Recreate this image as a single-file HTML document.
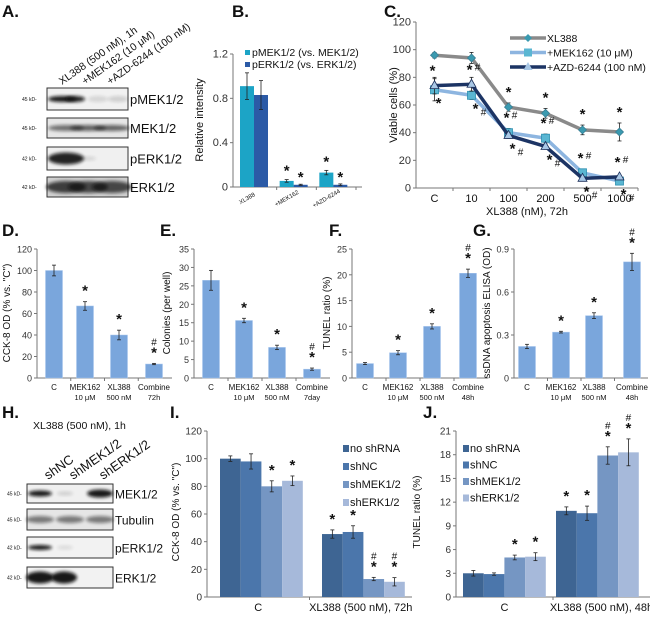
<!DOCTYPE html>
<html><head><meta charset="utf-8">
<style>
html,body{margin:0;padding:0;background:#fff;}
svg{display:block;font-family:"Liberation Sans",Arial,sans-serif;}
</style></head>
<body>
<svg id="fig" width="650" height="626" viewBox="0 0 650 626" xmlns="http://www.w3.org/2000/svg">
<defs>
<filter id="blur1" x="-20%" y="-50%" width="140%" height="200%"><feGaussianBlur stdDeviation="1.6"/></filter>
</defs>
</svg>
<script>
// ===== Panel B data =====
const bCats = ["XL388", "+MEK162", "+AZD-6244"];
const bPMEK = [0.91, 0.055, 0.13];
const bPMEKErr = [0.12, 0.012, 0.02];
const bPERK = [0.83, 0.02, 0.02];
const bPERKErr = [0.13, 0.005, 0.008];
const bTicks = [0, 0.4, 0.8, 1.2];
const bAnnot = ["", "*", "*"];
// ===== Panel C data =====
const cCats = ["C", "10", "100", "200", "500", "1000"];
const cXL = [96, 94, 58.5, 54, 42, 40.5];
const cXLErr = [2, 4, 3, 3.5, 3.5, 6.5];
const cMEK = [71, 67, 40, 36, 11, 5];
const cMEKErr = [8, 3, 3, 3, 2, 1];
const cAZD = [74, 75, 38, 30, 7, 8];
const cAZDErr = [6, 5, 2, 2, 1, 1];
const cTicks = [0, 20, 40, 60, 80, 100, 120];
const cXLAnnot = ["", "", "*", "*", "*", "*"];
const cMEKAnnot = ["*", "*#", "*#", "*#", "*#", "*#"];
const cAZDAnnot = ["*", "*#", "*#", "*#", "*#", "*#"];
// ===== Panel D-G data =====
const rowCats = ["C", "MEK162", "XL388", "Combine"];
const rowCats2 = ["", "10 μM", "500 nM"];
const dVals = [100, 67, 40, 13];
const dErr = [5, 4, 4.5, 0.6];
const dTicks = [0, 20, 40, 60, 80, 100, 120];
const dAnnot = ["", "*", "*", "*#"];
const eVals = [26.5, 15.6, 8.3, 2.4];
const eErr = [2.7, 0.6, 0.6, 0.3];
const eTicks = [0, 5, 10, 15, 20, 25, 30, 35];
const eAnnot = ["", "*", "*", "*#"];
const fVals = [2.8, 4.9, 10, 20.3];
const fErr = [0.2, 0.4, 0.5, 0.8];
const fTicks = [0, 5, 10, 15, 20, 25];
const fAnnot = ["", "*", "*", "*#"];
const gVals = [0.22, 0.32, 0.435, 0.81];
const gErr = [0.015, 0.006, 0.02, 0.06];
const gTicks = [0, 0.3, 0.6, 0.9];
const gAnnot = ["", "*", "*", "*#"];
// ===== Panel I/J data =====
const ijGroups = ["C", "XL388"];
const ijSeries = ["no shRNA", "shNC", "shMEK1/2", "shERK1/2"];
const iC = [100, 98, 80, 84];
const iCErr = [2, 5.5, 4, 3.5];
const iX = [45.5, 47, 13, 11];
const iXErr = [3, 4.5, 1.2, 3];
const iTicks = [0, 20, 40, 60, 80, 100, 120];
const iCAnnot = ["", "", "*", "*"];
const iXAnnot = ["*", "*", "*#", "*#"];
const jC = [3, 2.9, 5, 5.1];
const jCErr = [0.35, 0.15, 0.3, 0.5];
const jX = [10.9, 10.6, 17.9, 18.3];
const jXErr = [0.5, 0.9, 1.1, 1.7];
const jTicks = [0, 3, 6, 9, 12, 15, 18, 21];
const jCAnnot = ["", "", "*", "*"];
const jXAnnot = ["*", "*", "*#", "*#"];

const NS = "http://www.w3.org/2000/svg";
const svg = document.getElementById("fig");

function mk(tag, attrs, name, parent) {
  const el = document.createElementNS(NS, tag);
  for (const k in attrs) el.setAttribute(k, attrs[k]);
  
  
  (parent || svg).appendChild(el);
  return el;
}
function txt(x, y, s, size, name, extra) {
  const a = Object.assign({x: x, y: y, "font-size": size, fill: "#111"}, extra || {});
  const t = mk("text", a, name);
  t.textContent = s;
  return t;
}
function ln(x1, y1, x2, y2, name, stroke, w) {
  return mk("line", {x1: x1, y1: y1, x2: x2, y2: y2, stroke: stroke || "#777", "stroke-width": w || 1}, name);
}
function linScale(v0, v1, p0, p1) { return v => p0 + (v - v0) / (v1 - v0) * (p1 - p0); }
function errBar(x, yTop, yBot, name) {
  ln(x, yTop, x, yBot, name, "#222", 0.8);
  ln(x - 2, yTop, x + 2, yTop, name + "-cap", "#222", 0.8);
  ln(x - 2, yBot, x + 2, yBot, name + "-cap", "#222", 0.8);
}
function annot(x, y, s, name) {
  if (!s) return;
  if (s === "*") { txt(x, y + 8, "*", 15, name, {"text-anchor": "middle", "font-weight": "bold"}); }
  else {
    txt(x, y + 8, "*", 15, name, {"text-anchor": "middle", "font-weight": "bold"});
    txt(x, y - 4, "#", 10, name + "-hash", {"text-anchor": "middle"});
  }
}
function yAxis(ax, y0, y1, ticks, scale, fmt, size, nm) {
  ln(ax, y0, ax, y1, nm + "-y-axis", "#777", 1);
  ticks.forEach(t => {
    const y = scale(t);
    ln(ax - 3, y, ax, y, nm + "-y-tick", "#777", 1);
    txt(ax - 5, y + 3.5, fmt(t), size, nm + "-y-tick-label", {"text-anchor": "end", fill: "#333"});
  });
}

// ================= Panel A =================
txt(2, 17, "A.", 17, "panel-a-label", {"font-weight": "bold"});
[["XL388 (500 nM), 1h", 62], ["+MEK162 (10 μM)", 85], ["+AZD-6244 (100 nM)", 110]].forEach(c => {
  txt(c[1], 85, c[0], 10.5, "lane-label-a", {transform: "rotate(-35 " + c[1] + " 85)"});
});
const aRows = [
  {name: "pMEK1/2", y: 88, h: 22, kd: "45 kD-", bands: [[62, 0.95, 14, 3], [75, 0.9, 10, 3], [98, 0.12, 10, 3], [118, 0.15, 10, 3]], bg: "#f1f1f1"},
  {name: "MEK1/2", y: 118, h: 20, kd: "45 kD-", bands: [[66, 0.55, 18, 3], [88, 0.6, 18, 3], [112, 0.6, 18, 3]], bg: "#e6e6e6"},
  {name: "pERK1/2", y: 147, h: 23, kd: "42 kD-", bands: [[66, 0.9, 18, 6], [88, 0.12, 8, 2]], bg: "#f0f0f0"},
  {name: "ERK1/2", y: 177, h: 20, kd: "42 kD-", bands: [[66, 0.75, 20, 6], [88, 0.7, 20, 6], [112, 0.7, 20, 6]], bg: "#d0d0d0"}
];
aRows.forEach(r => {
  mk("rect", {x: 47, y: r.y, width: 81, height: r.h, fill: r.bg, stroke: "#333", "stroke-width": 1}, "blot-" + r.name.toLowerCase().replace("/", ""));
  r.bands.forEach(b => {
    mk("ellipse", {cx: b[0], cy: r.y + r.h / 2, rx: b[2], ry: b[3], fill: "#111", opacity: b[1], filter: "url(#blur1)"}, "blot-band");
  });
  txt(130, r.y + r.h / 2 + 5, r.name, 13, "blot-label");
  txt(22, r.y + r.h / 2 + 2, r.kd, 5, "kd-marker");
});

// ================= Panel B =================
txt(232, 17, "B.", 17, "panel-b-label", {"font-weight": "bold"});
const bx0 = 233, bxEnd = 362, by0 = 187, byTop = 54;
const bY = linScale(0, 1.2, by0, byTop);
yAxis(bx0, by0, byTop, bTicks, bY, t => t === 0 ? "0" : t.toFixed(1), 11, "panel-b");
ln(bx0, by0, bxEnd, by0, "panel-b-x-axis", "#777", 1);
const bGroupW = (bxEnd - bx0 - 10) / bCats.length;
const bBarW = 14;
bCats.forEach((c, i) => {
  const cx = bx0 + 21 + i * bGroupW;
  ln(bx0 + (i + 1) * bGroupW + 4, by0, bx0 + (i + 1) * bGroupW + 4, by0 + 3, "panel-b-x-tick", "#777", 1);
  mk("rect", {x: cx - bBarW, y: bY(bPMEK[i]), width: bBarW, height: by0 - bY(bPMEK[i]), fill: "#1ca4c6"}, "bar-pmek-" + i);
  mk("rect", {x: cx, y: bY(bPERK[i]), width: bBarW, height: by0 - bY(bPERK[i]), fill: "#2b5aa6"}, "bar-perk-" + i);
  errBar(cx - bBarW / 2, bY(bPMEK[i] + bPMEKErr[i]), bY(bPMEK[i] - bPMEKErr[i]), "err-pmek");
  errBar(cx + bBarW / 2, bY(bPERK[i] + bPERKErr[i]), bY(bPERK[i] - bPERKErr[i]), "err-perk");
  if (bAnnot[i]) {
    annot(cx - bBarW / 2, bY(bPMEK[i] + bPMEKErr[i]) - 12, "*", "sig-pmek");
    annot(cx + bBarW / 2, bY(bPERK[i] + bPERKErr[i]) - 10, "*", "sig-perk");
  }
  txt(cx - 6, 200, c, 6, "panel-b-x-label", {"text-anchor": "middle", transform: "rotate(-30 " + (cx - 6) + " 200)"});
});
txt(203, 120, "Relative intensity", 11, "panel-b-y-title", {"text-anchor": "middle", transform: "rotate(-90 203 120)"});
mk("rect", {x: 245, y: 50, width: 5, height: 5, fill: "#1ca4c6"}, "legend-swatch-pmek");
txt(252, 56, "pMEK1/2 (vs. MEK1/2)", 10.5, "legend-entry-pmek");
mk("rect", {x: 245, y: 62, width: 5, height: 5, fill: "#2b5aa6"}, "legend-swatch-perk");
txt(252, 68, "pERK1/2 (vs. ERK1/2)", 10.5, "legend-entry-perk");

// ================= Panel C =================
txt(384, 17, "C.", 17, "panel-c-label", {"font-weight": "bold"});
const cx0 = 416, cxEnd = 638, cy0 = 188, cyTop = 22;
const cY = linScale(0, 120, cy0, cyTop);
const cStep = (cxEnd - cx0) / cCats.length;
const cX = i => cx0 + cStep * (i + 0.5);
yAxis(cx0, cy0, cyTop, cTicks, cY, t => String(t), 11, "panel-c");
ln(cx0, cy0, cxEnd, cy0, "panel-c-x-axis", "#777", 1);
cCats.forEach((c, i) => {
  ln(cx0 + cStep * (i + 1), cy0, cx0 + cStep * (i + 1), cy0 + 3, "panel-c-x-tick", "#777", 1);
  txt(cX(i), 202, c, 11, "panel-c-x-label", {"text-anchor": "middle"});
});
txt(527, 215, "XL388 (nM), 72h", 11, "panel-c-x-title", {"text-anchor": "middle"});
txt(397, 105, "Viable cells (%)", 11, "panel-c-y-title", {"text-anchor": "middle", transform: "rotate(-90 397 105)"});
function series(vals, errs, color, marker, mfill, nm) {
  const pts = vals.map((v, i) => cX(i) + "," + cY(v)).join(" ");
  mk("polyline", {points: pts, fill: "none", stroke: color, "stroke-width": 3.5}, nm + "-line");
  vals.forEach((v, i) => {
    errBar(cX(i), cY(v + errs[i]), cY(v - errs[i]), nm + "-err");
    const x = cX(i), y = cY(v);
    if (marker === "d") mk("polygon", {points: `${x},${y-4} ${x+4},${y} ${x},${y+4} ${x-4},${y}`, fill: mfill, stroke: "#3a7f94", "stroke-width": 0.8}, nm + "-point");
    else if (marker === "s") mk("rect", {x: x - 4, y: y - 4, width: 8, height: 8, fill: mfill, stroke: "#2b8fb0", "stroke-width": 0.8}, nm + "-point");
    else mk("polygon", {points: `${x},${y-5} ${x+4.5},${y+3} ${x-4.5},${y+3}`, fill: mfill, stroke: "#1b2f5a", "stroke-width": 0.8}, nm + "-point");
  });
}
series(cXL, cXLErr, "#8a8a8a", "d", "#3a9ab0", "series-xl388");
series(cMEK, cMEKErr, "#8db5e0", "s", "#5ab6d2", "series-mek162");
series(cAZD, cAZDErr, "#1c3464", "t", "#a9c8e6", "series-azd6244");
cXLAnnot.forEach((s, i) => { if (s) annot(cX(i), cY(cXL[i] + cXLErr[i]) - 14, s, "sig-xl388"); });
cAZDAnnot.forEach((s, i) => {
  if (!s) return;
  const y = cY(Math.max(cAZD[i], cMEK[i])) - 18;
  txt(cX(i) - 2, y + 8, "*", 15, "sig-azd", {"text-anchor": "middle", "font-weight": "bold"});
  if (s.length > 1) txt(cX(i) + 6, y + 4, "#", 10, "sig-azd-hash", {"text-anchor": "middle"});
});
cMEKAnnot.forEach((s, i) => {
  if (!s) return;
  const y = cY(Math.min(cAZD[i], cMEK[i])) + 8;
  txt(cX(i) + 4, y + 10, "*", 15, "sig-mek", {"text-anchor": "middle", "font-weight": "bold"});
  if (s.length > 1) txt(cX(i) + 12, y + 12, "#", 10, "sig-mek-hash", {"text-anchor": "middle"});
});
// legend C
const cLeg = [["XL388", "#8a8a8a", "d", "#3a9ab0"], ["+MEK162 (10 μM)", "#8db5e0", "s", "#5ab6d2"], ["+AZD-6244 (100 nM)", "#1c3464", "t", "#a9c8e6"]];
cLeg.forEach((l, k) => {
  const y = 38 + k * 14.5, x = 528;
  ln(510, y, 546, y, "legend-line", l[1], 3.5);
  if (l[2] === "d") mk("polygon", {points: `${x},${y-4} ${x+4},${y} ${x},${y+4} ${x-4},${y}`, fill: l[3]}, "legend-marker");
  else if (l[2] === "s") mk("rect", {x: x - 4, y: y - 4, width: 8, height: 8, fill: l[3]}, "legend-marker");
  else mk("polygon", {points: `${x},${y-5} ${x+4.5},${y+3} ${x-4.5},${y+3}`, fill: l[3]}, "legend-marker");
  txt(547, y + 4, l[0], 10.5, "legend-entry-c");
});

// ================= Panels D-G =================
function rowPanel(o) {
  txt(o.lx, 236, o.label, 17, "panel-" + o.id + "-label", {"font-weight": "bold"});
  const y0 = 378, yTop = 249;
  const sc = linScale(0, o.ticks[o.ticks.length - 1], y0, yTop);
  yAxis(o.ax, y0, yTop, o.ticks, sc, o.fmt, 9, "panel-" + o.id);
  ln(o.ax, y0, o.xEnd, y0, "panel-" + o.id + "-x-axis", "#777", 1);
  o.vals.forEach((v, i) => {
    const cx = o.centers[i];
    mk("rect", {x: cx - 8.5, y: sc(v), width: 17, height: y0 - sc(v), fill: "#7aa6dc", stroke: "#a9c7ee", "stroke-width": 0.5}, "bar-" + o.id + "-" + i);
    errBar(cx, sc(v + o.err[i]), sc(v - o.err[i]), "err-" + o.id);
    annot(cx, sc(v + o.err[i]) - 14, o.annot[i], "sig-" + o.id);
    if (i > 0) ln(o.ax + (o.xEnd - o.ax) * i / 4, y0, o.ax + (o.xEnd - o.ax) * i / 4, y0 + 3, "panel-" + o.id + "-x-tick", "#777", 1);
    txt(cx, 390, rowCats[i], 8, "panel-" + o.id + "-x-label", {"text-anchor": "middle"});
    const l2 = i < 3 ? rowCats2[i] : o.last;
    if (l2) txt(cx, 400, l2, 7.5, "panel-" + o.id + "-x-label-2", {"text-anchor": "middle"});
  });
  txt(o.tx, 313, o.title, 10, "panel-" + o.id + "-y-title", {"text-anchor": "middle", transform: "rotate(-90 " + o.tx + " 313)"});
}
rowPanel({id: "d", label: "D.", lx: 2, ax: 37, xEnd: 172, centers: [54, 85, 119, 154], vals: dVals, err: dErr, ticks: dTicks, annot: dAnnot, fmt: t => String(t), last: "72h", title: "CCK-8 OD (% vs. \"C\")", tx: 10});
rowPanel({id: "e", label: "E.", lx: 160, ax: 194, xEnd: 330, centers: [211, 244, 277, 312], vals: eVals, err: eErr, ticks: eTicks, annot: eAnnot, fmt: t => String(t), last: "7day", title: "Colonies (per well)", tx: 170});
rowPanel({id: "f", label: "F.", lx: 329, ax: 352, xEnd: 488, centers: [365, 398, 432, 468], vals: fVals, err: fErr, ticks: fTicks, annot: fAnnot, fmt: t => String(t), last: "48h", title: "TUNEL ratio (%)", tx: 330});
rowPanel({id: "g", label: "G.", lx: 473, ax: 514, xEnd: 648, centers: [527, 561, 594, 632], vals: gVals, err: gErr, ticks: gTicks, annot: gAnnot, fmt: t => t === 0 ? "0" : t.toFixed(1), last: "48h", title: "ssDNA apoptosis ELISA (OD)", tx: 490});

// ================= Panel H =================
txt(2, 418, "H.", 17, "panel-h-label", {"font-weight": "bold"});
txt(33, 429, "XL388 (500 nM), 1h", 10.5, "panel-h-treatment-label");
[["shNC", 48], ["shMEK1/2", 73], ["shERK1/2", 103]].forEach(c => {
  txt(c[1], 480, c[0], 13, "lane-label-h", {transform: "rotate(-35 " + c[1] + " 480)"});
});
const hRows = [
  {name: "MEK1/2", y: 484, h: 19, kd: "45 kD-", bands: [[40, 0.95, 12, 3], [65, 0.15, 8, 2], [100, 0.95, 13, 4]], bg: "#f0f0f0"},
  {name: "Tubulin", y: 509, h: 21, kd: "45 kD-", bands: [[40, 0.5, 14, 3.5], [70, 0.5, 14, 3.5], [100, 0.5, 14, 3.5]], bg: "#e6e6e6"},
  {name: "pERK1/2", y: 537, h: 21, kd: "42 kD-", bands: [[40, 0.95, 12, 2.5], [65, 0.1, 8, 2]], bg: "#f2f2f2"},
  {name: "ERK1/2", y: 567, h: 21, kd: "42 kD-", bands: [[40, 0.95, 14, 6], [64, 0.95, 13, 6]], bg: "#f2f2f2"}
];
hRows.forEach(r => {
  mk("rect", {x: 27, y: r.y, width: 86, height: r.h, fill: r.bg, stroke: "#333", "stroke-width": 1}, "blot-h-" + r.name.toLowerCase().replace("/", ""));
  r.bands.forEach(b => {
    mk("ellipse", {cx: b[0], cy: r.y + r.h / 2, rx: b[2], ry: b[3], fill: "#111", opacity: b[1], filter: "url(#blur1)"}, "blot-band");
  });
  txt(115, r.y + r.h / 2 + 5, r.name, 12, "blot-label-h");
  txt(7, r.y + r.h / 2 + 2, r.kd, 5, "kd-marker-h");
});

// ================= Panels I/J =================
const ijColors = ["#3e6593", "#4b76ab", "#7596c3", "#a6b9da"];
function groupedPanel(o) {
  txt(o.lx, 418, o.label, 17, "panel-" + o.id + "-label", {"font-weight": "bold"});
  const y0 = 597, yTop = 431;
  const sc = linScale(0, o.ticks[o.ticks.length - 1], y0, yTop);
  yAxis(o.ax, y0, yTop, o.ticks, sc, t => String(t), 10, "panel-" + o.id);
  ln(o.ax, y0, o.xEnd, y0, "panel-" + o.id + "-x-axis", "#777", 1);
  const mid = (o.ax + o.xEnd) / 2;
  ln(mid, y0, mid, y0 + 3, "panel-" + o.id + "-x-tick", "#777", 1);
  const groups = [[o.cVals, o.cErr, o.cAnnot, o.g1], [o.xVals, o.xErr, o.xAnnot, o.g2]];
  groups.forEach((g, gi) => {
    g[0].forEach((v, i) => {
      const x = g[3] + i * o.bw;
      mk("rect", {x: x, y: sc(v), width: o.bw, height: y0 - sc(v), fill: ijColors[i]}, "bar-" + o.id + "-" + ijGroups[gi] + "-" + ijSeries[i]);
      errBar(x + o.bw / 2, sc(v + g[1][i]), sc(v - g[1][i]), "err-" + o.id);
      annot(x + o.bw / 2, sc(v + g[1][i]) - 14, g[2][i], "sig-" + o.id);
    });
  });
  txt((o.ax + mid) / 2, 611, "C", 11, "panel-" + o.id + "-x-label", {"text-anchor": "middle"});
  txt((mid + o.xEnd) / 2, 611, o.xLabel, 11, "panel-" + o.id + "-x-label", {"text-anchor": "middle"});
  txt(o.tx, 512, o.title, 10, "panel-" + o.id + "-y-title", {"text-anchor": "middle", transform: "rotate(-90 " + o.tx + " 512)"});
  ijSeries.forEach((s, k) => {
    const y = o.legY + k * o.legStep;
    mk("rect", {x: o.legX, y: y - 6, width: 6, height: 7, fill: ijColors[k]}, "legend-swatch-" + o.id);
    txt(o.legX + 7, y + 1, s, 11, "legend-entry-" + o.id);
  });
}
groupedPanel({id: "i", label: "I.", lx: 170, ax: 207, xEnd: 412, g1: 220, g2: 322, bw: 20.7, cVals: iC, cErr: iCErr, cAnnot: iCAnnot, xVals: iX, xErr: iXErr, xAnnot: iXAnnot, ticks: iTicks, xLabel: "XL388 (500 nM), 72h", title: "CCK-8 OD (% vs. \"C\")", tx: 179, legX: 343, legY: 451, legStep: 18});
groupedPanel({id: "j", label: "J.", lx: 423, ax: 456, xEnd: 650, g1: 463, g2: 556, bw: 20.7, cVals: jC, cErr: jCErr, cAnnot: jCAnnot, xVals: jX, xErr: jXErr, xAnnot: jXAnnot, ticks: jTicks, xLabel: "XL388 (500 nM), 48h", title: "TUNEL ratio (%)", tx: 420, legX: 463, legY: 451, legStep: 16.5});
</script>
</body></html>
